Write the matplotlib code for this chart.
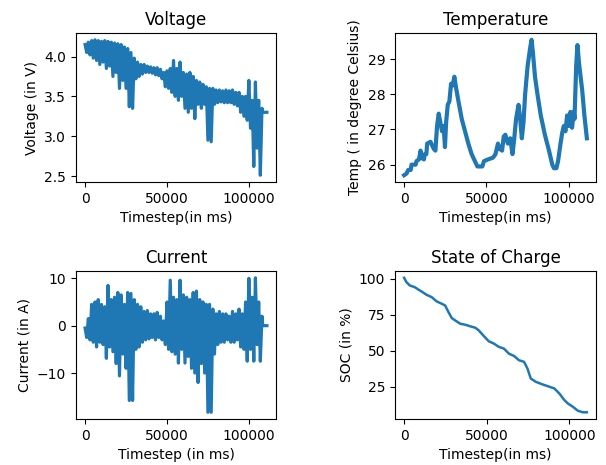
import numpy as np
import matplotlib
matplotlib.use('Agg')
import matplotlib.pyplot as plt

# values
# voltage: upper values at even thousands of ms, lower values at odd thousands
volt_hi = [4.15, 4.18, 4.20, 4.21, 4.20, 4.19, 4.20, 4.19, 4.18, 4.17,
           4.16, 4.15, 4.12, 4.10, 4.05, 3.98, 3.93, 3.90, 3.90, 3.88,
           3.87, 3.86, 3.86, 3.84, 3.80, 3.82, 3.85, 3.95, 3.85, 3.93,
           3.80, 3.78, 3.80, 3.75, 3.70, 3.68, 3.65, 3.62, 3.60, 3.60,
           3.58, 3.58, 3.57, 3.58, 3.57, 3.58, 3.55, 3.55, 3.50, 3.50,
           3.70, 3.45, 3.68, 3.45, 3.35]
volt_lo = [4.05, 4.02, 3.98, 3.95, 3.90, 3.93, 3.85, 3.88, 3.75, 3.80,
           3.60, 3.70, 3.60, 3.37, 3.35, 3.72, 3.75, 3.78, 3.80, 3.80,
           3.79, 3.77, 3.76, 3.72, 3.62, 3.60, 3.55, 3.50, 3.45, 3.50,
           3.35, 3.30, 3.35, 3.22, 3.40, 3.35, 3.40, 2.95, 2.93, 3.40,
           3.42, 3.43, 3.42, 3.42, 3.42, 3.40, 3.38, 3.30, 3.25, 3.20,
           3.10, 2.62, 2.85, 2.51]
volt_tail_t = [108500, 111000]
volt_tail = [3.30, 3.30]

curr_hi = [-0.5, 1.5, 4.5, 5.0, 5.5, 4.5, 4.0, 8.5, 5.5, 6.0,
           7.0, 6.5, 4.5, 7.0, 6.8, 5.5, 4.5, 4.0, 3.0, 3.2,
           2.5, 2.5, 2.8, 2.0, 1.0, 5.0, 9.6, 6.0, 5.5, 9.6,
           6.5, 6.0, 5.5, 7.0, 7.3, 5.5, 5.0, 4.5, 4.5, 3.5,
           2.5, 3.0, 2.5, 2.5, 2.0, 3.0, 2.5, 3.5, 2.5, 5.0,
           10.0, 6.0, 10.1, 5.0, 2.0]
curr_lo = [-2.5, -3.0, -3.5, -4.5, -3.5, -4.0, -6.9, -4.5, -5.5, -8.0,
           -10.6, -6.0, -9.0, -15.8, -15.8, -5.0, -4.5, -3.5, -3.0, -2.8,
           -2.5, -3.0, -2.5, -3.0, -4.0, -5.0, -5.5, -6.0, -7.9, -5.0,
           -7.9, -6.5, -9.0, -10.0, -12.0, -8.0, -10.0, -18.3, -18.3, -6.0,
           -4.0, -3.5, -3.5, -3.0, -3.5, -3.5, -3.0, -4.5, -5.0, -7.5,
           -5.0, -7.5, -4.0, -7.5]
curr_tail_t = [108500, 111000]
curr_tail = [0.0, 0.0]

temp_t = [0, 1500, 2500, 4000, 4500, 7000, 7500, 9000, 10000, 10500,
          12000, 12500, 13500, 14000, 16000, 17000, 18000, 19000, 20000, 21000,
          22000, 23000, 24000, 24800, 25500, 26500, 27500, 28500, 29500, 30500,
          31500, 33000, 35000, 37000, 39000, 41000, 43000, 44500, 47500, 48500,
          51000, 54000, 55500, 57000, 58000, 59500, 60500, 61500, 63000, 64500,
          65800, 66800, 68000, 69500, 70500, 71500, 72500, 73500, 75000, 76500,
          77400, 78200, 79500, 81000, 83000, 85500, 88000, 90000, 91000, 92500,
          93500, 95000, 96000, 97000, 98000, 99000, 100000, 101000, 102000, 103000,
          103500, 104500, 105300, 106200, 107200, 108200, 109500, 111000]
temp = [25.70, 25.75, 25.85, 25.85, 26.00, 26.00, 26.10, 26.15, 26.40, 26.20,
        26.15, 26.30, 26.30, 26.60, 26.65, 26.55, 26.45, 26.40, 27.10, 27.45,
        27.20, 26.95, 27.10, 26.50, 27.20, 27.70, 27.80, 28.30, 28.25, 28.50,
        28.20, 27.80, 27.30, 26.95, 26.60, 26.30, 26.10, 25.95, 25.95, 26.10,
        26.15, 26.20, 26.30, 26.60, 26.45, 26.40, 26.80, 26.85, 26.60, 26.75,
        26.30, 26.70, 27.30, 27.70, 27.30, 26.75, 27.20, 28.00, 28.80, 29.30,
        29.55, 29.20, 28.50, 28.00, 27.40, 26.85, 26.40, 26.00, 25.90, 25.90,
        26.10, 26.60, 26.90, 27.10, 26.95, 27.40, 27.10, 27.50, 27.05, 27.50,
        27.30, 28.80, 29.40, 28.90, 28.50, 28.10, 27.40, 26.75]

soc_t = [0, 1420, 3460, 6500, 8540, 10570, 13620, 16670, 19720, 22770,
         24800, 26830, 28860, 30900, 33940, 37000, 40040, 43090, 45120, 48170,
         51220, 54270, 57320, 60370, 63410, 66460, 69510, 72560, 74590, 76630,
         79680, 83740, 87810, 90850, 93900, 96950, 98980, 102030, 105080, 108130,
         110570]
soc = [100.7, 97.7, 95.4, 94.2, 92.6, 91.2, 88.9, 87.3, 84.3, 82.7,
       81.5, 76.9, 72.7, 71.1, 68.8, 68.1, 67.0, 66.0, 64.2, 60.3,
       56.6, 55.0, 52.7, 51.5, 48.0, 46.4, 43.4, 42.3, 37.7, 30.7,
       28.4, 26.6, 25.0, 23.8, 20.3, 15.7, 13.4, 11.1, 8.3, 7.2,
       7.2]


def zigzag(hi, lo, tail_t, tail):
    # upper values sit on even thousands, lower ones on odd thousands
    t_hi = np.arange(len(hi)) * 2000
    t_lo = np.arange(len(lo)) * 2000 + 1000
    t = np.empty(len(hi) + len(lo))
    v = np.empty(len(hi) + len(lo))
    t[0::2], v[0::2] = t_hi, hi
    t[1::2], v[1::2] = t_lo, lo
    return np.concatenate([t, tail_t]), np.concatenate([v, tail])


fig = plt.figure(figsize=(6.06, 4.65), dpi=100)
ax1 = fig.add_axes([0.1254, 0.6086, 0.330, 0.3204])
ax2 = fig.add_axes([0.6518, 0.6086, 0.3317, 0.3204])
ax3 = fig.add_axes([0.1254, 0.0989, 0.330, 0.318])
ax4 = fig.add_axes([0.6518, 0.0989, 0.3317, 0.318])

t, v = zigzag(volt_hi, volt_lo, volt_tail_t, volt_tail)
ax1.plot(t, v, linewidth=2.3)
ax1.set_title('Voltage')
ax1.set_xlabel('Timestep(in ms)')
ax1.set_ylabel('Voltage (in V)')
ax1.set_yticks([2.5, 3.0, 3.5, 4.0])

ax2.plot(temp_t, temp, linewidth=3.0)
ax2.set_title('Temperature')
ax2.set_xlabel('Timestep(in ms)')
ax2.set_ylabel('Temp ( in degree Celsius)')
ax2.set_yticks([26, 27, 28, 29])

t, c = zigzag(curr_hi, curr_lo, curr_tail_t, curr_tail)
ax3.plot(t, c, linewidth=2.3)
ax3.set_title('Current')
ax3.set_xlabel('Timestep (in ms)')
ax3.set_ylabel('Current (in A)')
ax3.set_yticks([-10, 0, 10])

ax4.plot(soc_t, soc, linewidth=1.8)
ax4.set_title('State of Charge')
ax4.set_xlabel('Timestep(in ms)')
ax4.set_ylabel('SOC (in %)')
ax4.set_yticks([25, 50, 75, 100])

for ax in (ax1, ax2, ax3, ax4):
    ax.set_xticks([0, 50000, 100000])

fig.savefig('out.png', dpi=100)
